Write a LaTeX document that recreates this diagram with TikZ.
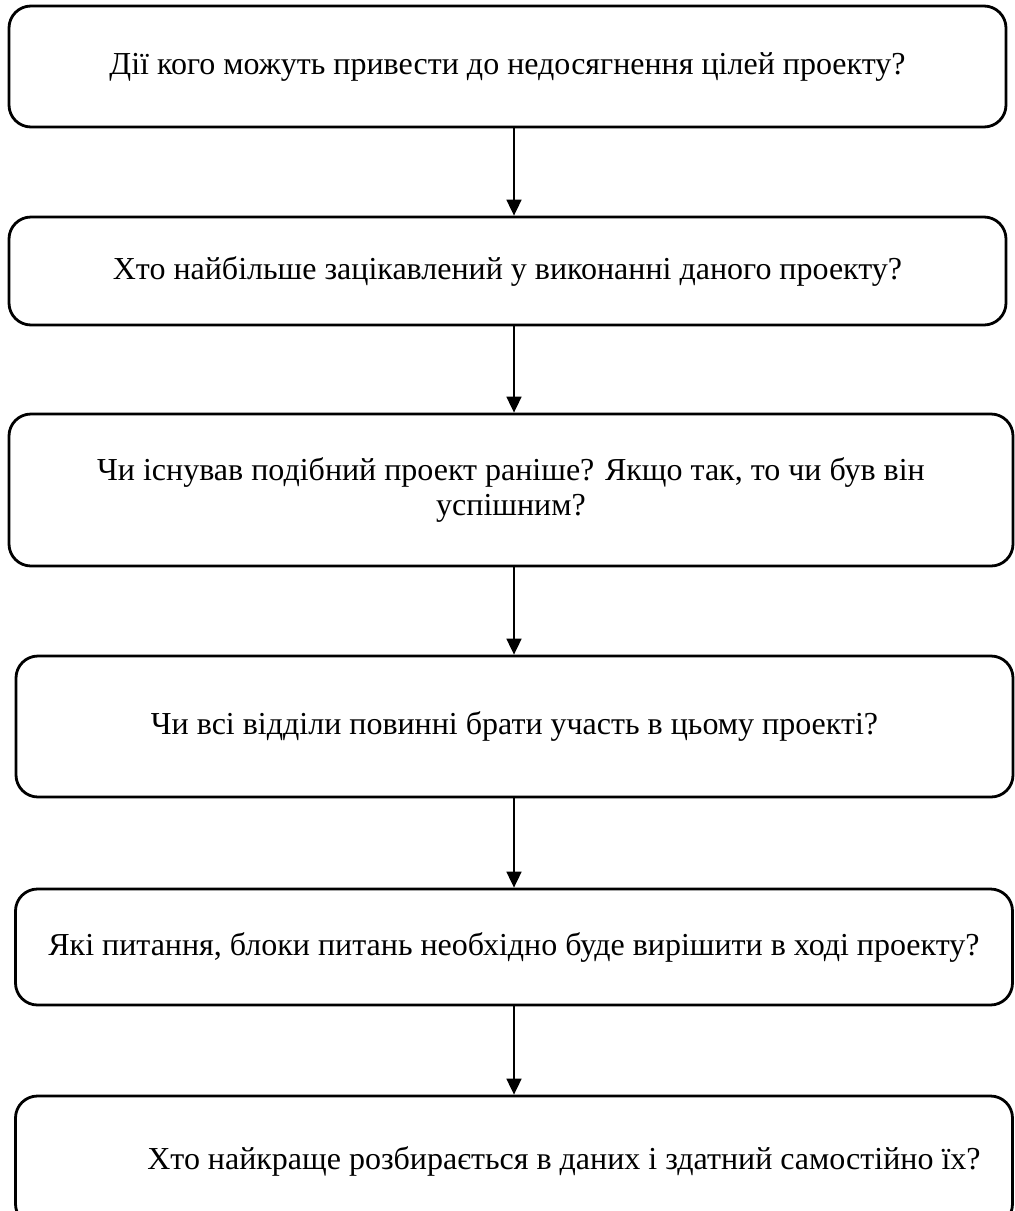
\documentclass[tikz,border=0pt]{standalone}
\usepackage{fontspec}
\setmainfont{Liberation Serif}
\usetikzlibrary{arrows.meta}

\begin{document}
\begin{tikzpicture}[x=0.5pt, y=-0.5pt]
	\tikzstyle{question} = [ draw, rectangle, rounded corners=11pt, line width=1.4pt, minimum width=498.5pt, align=center, font={\fontsize{16}{17.5}\selectfont} ];
	\tikzstyle{flow} = [ -{Triangle[width=7.5pt,length=8pt]}, line width=0.9pt ];

	\useasboundingbox (0,0) rectangle (1014,1211);

	\node[question, minimum height=60.5pt] (b1) at (507.5,66.5) {Дії кого можуть привести до недосягнення цілей проекту?};
	\node[question, minimum height=54pt] (b2) at (507.5,271) {Хто найбільше зацікавлений у виконанні даного проекту?};
	\node[question, minimum height=76pt, minimum width=502pt] (b3) at (511,490) {Чи існував подібний проект раніше? Якщо так, то чи був він\\успішним?};
	\node[question, minimum height=70.5pt] (b4) at (514.5,726.5) {Чи всі відділи повинні брати участь в цьому проекті?};
	\node[question, minimum height=58pt] (b5) at (514,947) {Які питання, блоки питань необхідно буде вирішити в ході проекту?};
	\node[question, minimum height=65pt] (b6) at (514,1161) {\hspace*{50pt}Хто найкраще розбирається в даних і здатний самостійно їх?};

	\coordinate (axis) at (514,0);

	\foreach \a/\b in {b1/b2,b2/b3,b3/b4,b4/b5,b5/b6} {
		\draw[flow] (\a.south -| axis) -- (\b.north -| axis);
	}
\end{tikzpicture}
\end{document}
